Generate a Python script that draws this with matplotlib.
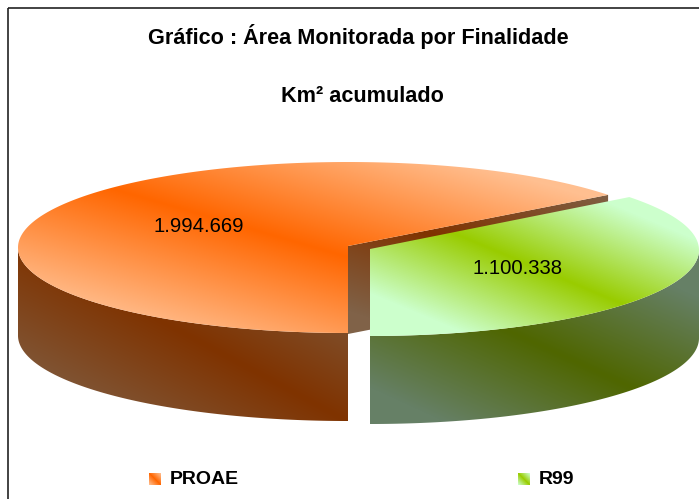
import numpy as np
import matplotlib
matplotlib.use("Agg")
import matplotlib.pyplot as plt
from matplotlib.colors import LinearSegmentedColormap
from matplotlib.patches import Polygon, Rectangle

plt.rcParams['font.family'] = ['Liberation Sans', 'DejaVu Sans']

title_lines = ["Gráfico : Área Monitorada por Finalidade", "Km² acumulado"]
categories = ["PROAE", "R99"]
values = [1994669, 1100338]
value_labels = ["1.994.669", "1.100.338"]

W, H = 699, 499
fig = plt.figure(figsize=(W / 100, H / 100), dpi=100)
ax = fig.add_axes([0, 0, 1, 1])
ax.set_xlim(0, W)
ax.set_ylim(H, 0)
ax.axis("off")

# pixel grid for the gradients
xx, yy = np.meshgrid(np.arange(W) + 0.5, np.arange(H) + 0.5)


def band_fill(clip, pt, slope, dmax, c_mid, c_edge, z):
    # colour runs out from a straight band on both sides
    d = np.abs(slope * (xx - pt[0]) - (yy - pt[1])) / np.sqrt(1 + slope ** 2)
    t = np.clip(d / dmax, 0, 1)
    cmap = LinearSegmentedColormap.from_list("b", [c_mid, c_edge])
    im = ax.imshow(t, cmap=cmap, vmin=0, vmax=1, extent=(0, W, H, 0),
                   interpolation="bilinear", aspect="auto", zorder=z)
    p = Polygon(clip, closed=True, transform=ax.transData, fc="none", ec="none")
    ax.add_patch(p)
    im.set_clip_path(p)


def arc(cx, cy, a, b, t0, t1, dy=0):
    t = np.radians(np.linspace(t0, t1, 300))
    return np.column_stack([cx + a * np.cos(t), cy - b * np.sin(t) + dy])


# split angle comes from the values
sweep = 360 * values[1] / sum(values)
green_start = 270.0
green_end = green_start + sweep
depth = 88

oc = (348, 247.5, 330, 85.5)
gc = (370, 250, 329, 86)

# orange slice
apex = np.array([[oc[0], 246]])
otop = np.vstack([apex, arc(*oc, green_end - 360, green_start)])
oside = np.vstack([arc(*oc, 180, green_start), arc(*oc, green_start, 180, dy=depth)])
owall = np.vstack([apex, arc(*oc, green_end - 360, green_end - 360),
                   arc(*oc, green_end - 360, green_end - 360, dy=depth), apex + [0, depth]])
band_fill(owall, (420, 230), 0.35, 100, "#7F3300", "#806248", 2)
band_fill(oside, (160, 320), 0.54, 125, "#7F3300", "#805C40", 3)
band_fill(otop, (127, 193), 0.29, 125, "#FF6600", "#FFBF90", 4)

# green slice
gapex = np.array([[gc[0], 249]])
gtop = np.vstack([gapex, arc(*gc, green_start, green_end)])
gside = np.vstack([arc(*gc, green_start, 360), arc(*gc, 360, green_start, dy=depth)])
band_fill(gside, (507, 330), 0.46, 110, "#4F6600", "#668066", 5)
band_fill(gtop, (463, 237), 0.42, 88, "#99CC00", "#CCFFCC", 6)

# labels
ax.text(199, 226, value_labels[0], ha="center", va="center", fontsize=14.6, zorder=8)
ax.text(518, 268, value_labels[1], ha="center", va="center", fontsize=14.6, zorder=8)

ax.text(358.5, 36, title_lines[0], ha="center", va="center", fontsize=15.6, fontweight="bold")
ax.text(362, 96, title_lines[1], ha="center", va="center", fontsize=15.6, fontweight="bold")

# legend
leg_x = [149, 518]
leg_colors = [("#FF6600", "#FFBF90"), ("#99CC00", "#CCFFCC")]
for x0, name, (c_mid, c_edge) in zip(leg_x, categories, leg_colors):
    box = [(x0, 473), (x0 + 12, 473), (x0 + 12, 485), (x0, 485)]
    band_fill(box, (x0 + 6, 479), 1.0, 8, c_mid, c_edge, 7)
    ax.text(x0 + 21, 479, name, ha="left", va="center", fontsize=14, fontweight="bold")

# chart frame, right and bottom sides run off the picture
ax.add_patch(Rectangle((7.5, 7.5), 800, 600, fc="none", ec="#222222", lw=1.2, zorder=9))

ax.set_xlim(0, W)
ax.set_ylim(H, 0)
fig.savefig("out.png", dpi=100)
